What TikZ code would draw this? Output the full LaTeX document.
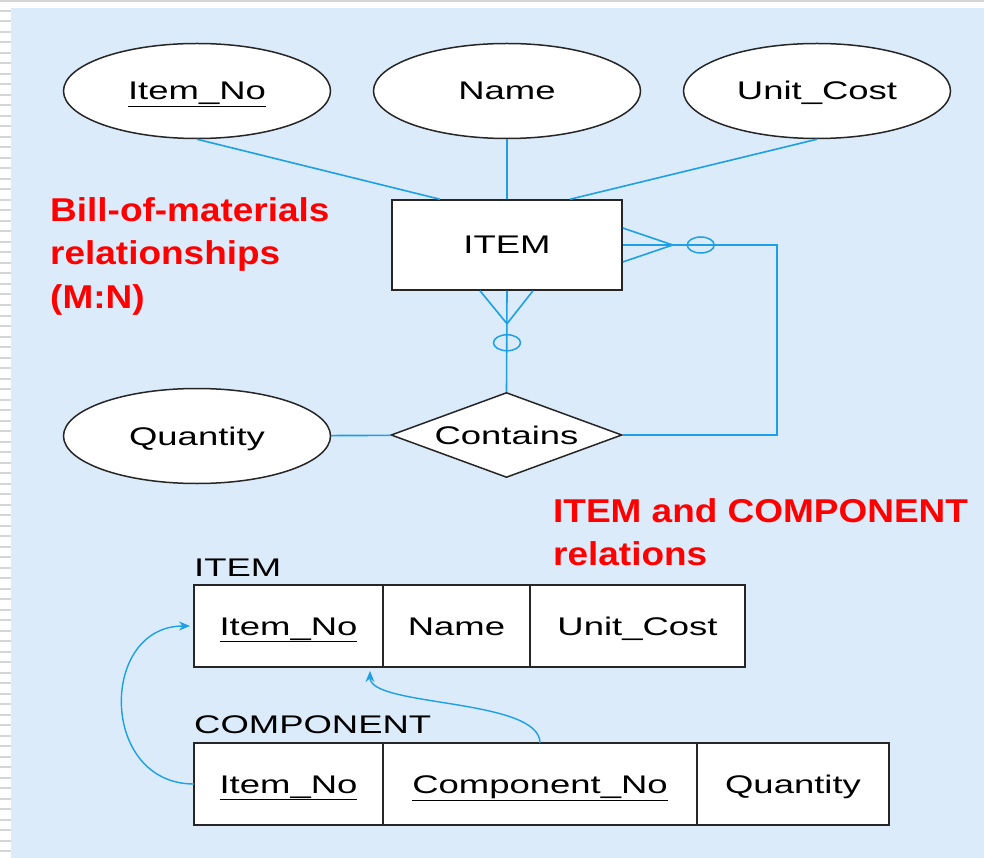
\documentclass[tikz,border=0pt]{standalone}
\usepackage{fontspec}
\setmainfont{Liberation Sans}[FakeStretch=1.43]
\newfontfamily\notefont{Liberation Sans}[FakeStretch=1.12]
\usetikzlibrary{shapes.geometric,positioning,arrows.meta}
\definecolor{erblue}{RGB}{30,160,230}
\definecolor{pagebg}{RGB}{219,235,250}
\definecolor{stripe}{RGB}{214,214,214}
\tikzset{
  txt/.style={font=\fontsize{25.5}{30}\selectfont},
  boxtxt/.style={txt,text height=24pt,text depth=6pt},
  attr/.style={ellipse,draw=black!85,line width=1.5pt,fill=white,boxtxt,
    minimum width=267,minimum height=95,inner sep=0},
  entity/.style={rectangle,draw=black!85,line width=1.5pt,fill=white,boxtxt,
    minimum width=230,minimum height=90,inner sep=0},
  rel/.style={diamond,draw=black!85,line width=1.5pt,fill=white,boxtxt,
    minimum width=231,minimum height=85,aspect=2.7,inner sep=0},
  opt/.style={ellipse,draw=erblue,line width=1.5pt,minimum width=27,minimum height=16,inner sep=0},
  link/.style={draw=erblue,line width=1.6pt},
  fk/.style={draw=erblue,line width=1.4pt,-{Stealth[length=11pt,width=9pt]},shorten >=4pt},
  cell/.style={rectangle,draw=black!85,line width=1.5pt,fill=white,boxtxt,
    minimum height=82,inner sep=0,outer sep=0},
  tname/.style={txt,inner sep=0},
  note/.style={text=red,font=\notefont\bfseries\fontsize{33}{43.5}\selectfont,
    align=left,inner sep=0}
}
\begin{document}
\begin{tikzpicture}[x=1pt,y=-1pt]
    \useasboundingbox (0,0) rectangle (984,858);
    \fill[stripe] (0,0) rectangle (984,2.5);
    \foreach \y in {10,20.5,...,858}
        \fill[stripe] (0,\y) rectangle (11,\y+2);
    \fill[pagebg] (11,8) rectangle (984,858);

    \node[attr] (itemno) at (197,91) {\underline{Item\_No}};
    \node[attr] (name) at (507,91) {Name};
    \node[attr] (cost) at (817,91) {Unit\_Cost};
    \node[entity] (item) at (507,245) {ITEM};
    \node[rel] (contains) at (506.5,435) {Contains};
    \node[attr] (qty) at (197,436) {Quantity};

    \draw[link] (itemno.south) -- ([xshift=-67pt]item.north);
    \draw[link] (name) -- (item);
    \draw[link] (cost.south) -- ([xshift=63pt]item.north);
    \draw[link] (qty) -- (contains);

    \coordinate (rfoot) at ([xshift=50pt]item.east);
    \node[opt] (ropt) at ([xshift=78pt]item.east) {};
    \draw[link] ([yshift=17pt]item.east) -- (rfoot) -- ([yshift=-17pt]item.east);
    \draw[link] (item.east) -- (ropt.east) -| ([xshift=154pt]contains.east) -- (contains.east);

    \coordinate (bfoot) at ([yshift=-33pt]item.south);
    \node[opt] (bopt) at ([yshift=-52pt]item.south) {};
    \draw[link] ([xshift=-27pt]item.south) -- (bfoot) -- ([xshift=26pt]item.south);
    \draw[link] (item.south) -- (contains.north);

    \node[note,anchor=north west] (bom) at (50,197) {Bill-of-materials\\relationships\\(M:N)};
    \node[note,anchor=north west] (rels) at (553,498) {ITEM and COMPONENT\\relations};

    \node[cell,minimum width=189,anchor=north west] (t1) at (194,585) {\underline{Item\_No}};
    \node[cell,minimum width=147,right=0pt of t1] (t2) {Name};
    \node[cell,minimum width=215,right=0pt of t2] (t3) {Unit\_Cost};
    \node[tname,above right=8pt and 0pt of t1.north west] (itemrel) {ITEM};

    \node[cell,minimum width=189,anchor=north west] (c1) at (194,743) {\underline{Item\_No}};
    \node[cell,minimum width=314,right=0pt of c1] (c2) {\underline{Component\_No}};
    \node[cell,minimum width=192,right=0pt of c2] (c3) {Quantity};
    \node[tname,above right=9pt and 0pt of c1.north west] (comprel) {COMPONENT};

    \draw[fk] (c1.west) .. controls +(-95,0) and +(-95,0) .. (t1.west);
    \draw[fk] (c2.north) .. controls +(0,-45) and +(0,40) .. ([xshift=-13pt]t1.south east);
\end{tikzpicture}
\end{document}
